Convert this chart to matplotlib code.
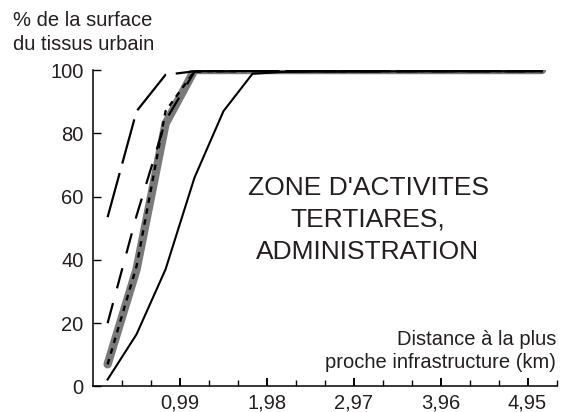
import matplotlib
matplotlib.use("Agg")
import matplotlib.pyplot as plt

# Police proche d'Arial
plt.rcParams['font.family'] = ['Liberation Sans', 'DejaVu Sans']
plt.rcParams['lines.scale_dashes'] = False

# Distances (km) au centre de chaque classe
distances = [0.165, 0.495, 0.825, 1.155, 1.485, 1.815, 2.145, 2.475,
             2.805, 3.135, 3.465, 3.795, 4.125, 4.455, 4.785, 5.115]

# % cumulé de la surface du tissu urbain
serie_grise = [7, 37, 83, 100, 100, 100, 100, 100,
               100, 100, 100, 100, 100, 100, 100, 100]
serie_pointillee = [7, 38, 87, 99.6, 99.7, 99.7, 99.7, 99.7,
                    99.7, 99.7, 99.7, 99.7, 99.7, 99.7, 99.7, 99.7]
serie_tirets_moyens = [20, 54, 84, 99.5, 99.6, 99.6, 99.6, 99.6,
                       99.6, 99.6, 99.6, 99.6, 99.6, 99.6, 99.6, 99.6]
serie_tirets_longs = [53.5, 87, 98.5, 99.6, 99.7, 99.7, 99.7, 99.7,
                      99.7, 99.7, 99.7, 99.7, 99.7, 99.7, 99.7, 99.7]
serie_continue = [2.2, 16.5, 37, 66, 87, 98.8, 99.4, 99.5,
                  99.5, 99.5, 99.6, 99.6, 99.6, 99.6, 99.6, 99.6]

graduations_x = [0.99, 1.98, 2.97, 3.96, 4.95]
etiquettes_x = ['0,99', '1,98', '2,97', '3,96', '4,95']
graduations_mineures = [0.33, 0.66, 1.32, 1.65, 2.31, 2.64, 3.30, 3.63,
                        4.29, 4.62, 5.28]
graduations_y = [0, 20, 40, 60, 80, 100]

texte = '#231f20'

fig = plt.figure(figsize=(5.61, 4.12), dpi=100)
ax = fig.add_axes([0.166, 0.062, 0.826, 0.768])

# Courbes
ax.plot(distances, serie_grise, color='#7a7a7a', linewidth=6,
        solid_capstyle='round', solid_joinstyle='round', zorder=2)
ax.plot(distances, serie_pointillee, color='black', linewidth=1.7,
        dashes=(4, 4), zorder=3)
ax.plot(distances, serie_tirets_moyens, color='black', linewidth=1.6,
        dashes=(15, 11), zorder=3)
ax.plot(distances, serie_tirets_longs, color='black', linewidth=1.6,
        dashes=(33, 7), zorder=3)
ax.plot(distances, serie_continue, color='black', linewidth=1.5, zorder=4)

# Axes
ax.set_xlim(0, 5.28)
ax.set_ylim(0, 100)
ax.spines['top'].set_visible(False)
ax.spines['right'].set_visible(False)
ax.spines['left'].set_linewidth(1.1)
ax.spines['bottom'].set_linewidth(1.1)
ax.set_facecolor('none')

ax.set_xticks(graduations_x)
ax.set_xticklabels(etiquettes_x)
ax.set_xticks(graduations_mineures, minor=True)
ax.set_yticks(graduations_y)
ax.tick_params(axis='x', which='major', direction='in', length=5.5, width=1.4,
               labelsize=14.5, pad=5, labelcolor=texte)
ax.tick_params(axis='x', which='minor', direction='in', length=4.5, width=1)
ax.tick_params(axis='y', direction='in', length=6, width=1,
               labelsize=14.5, pad=7, labelcolor=texte)

# Textes
fig.text(13 / 561, 1 - 11 / 412, '% de la surface\ndu tissus urbain',
         ha='left', va='top', fontsize=14.5, linespacing=1.32, color=texte)
fig.text(556 / 561, 1 - 351 / 412, 'Distance à la plus\nproche infrastructure (km)',
         ha='right', va='center', fontsize=14.5, linespacing=1.3,
         multialignment='right', color=texte)
fig.text(368 / 561, 1 - 220 / 412, "ZONE D'ACTIVITES\nTERTIARES,\nADMINISTRATION",
         ha='center', va='center', fontsize=19, linespacing=1.42,
         multialignment='center', color=texte)

fig.savefig('out.png', dpi=100)
